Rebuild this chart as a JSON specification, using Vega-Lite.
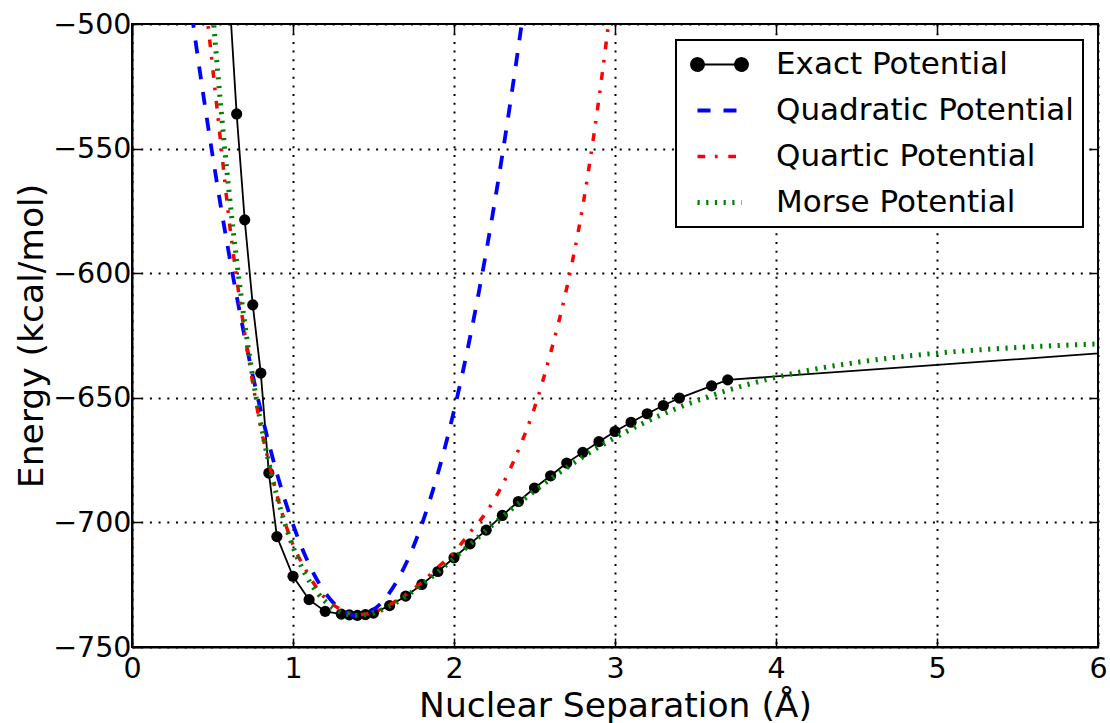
{
  "$schema": "https://vega.github.io/schema/vega-lite/v6.json",
  "width": 966,
  "height": 623,
  "autosize": "none",
  "padding": {"left": 132, "top": 24, "right": 12, "bottom": 76},
  "background": "white",
  "config": {
    "font": "DejaVu Sans",
    "view": {"stroke": "black", "strokeWidth": 2},
    "axis": {
      "labelFont": "DejaVu Sans",
      "titleFont": "DejaVu Sans",
      "labelFontSize": 28.5,
      "titleFontSize": 34.5,
      "titleFontWeight": "normal",
      "labelColor": "black",
      "titleColor": "black",
      "domainColor": "black",
      "domainWidth": 2,
      "tickColor": "black",
      "tickWidth": 1.5,
      "tickSize": -9,
      "grid": true,
      "gridColor": "black",
      "gridOpacity": 1,
      "gridWidth": 2,
      "gridDash": [2, 6.7],
      "labelFlush": false,
      "labelOverlap": false
    },
    "axisX": {"labelPadding": 16, "titlePadding": 7},
    "axisY": {"labelPadding": 10, "titlePadding": 3}
  },
  "datasets": {
    "exact": [
      {"x": 0.6, "E": -483.6, "series": "Exact Potential"},
      {"x": 0.65, "E": -536.1, "series": "Exact Potential"},
      {"x": 0.7, "E": -578.6, "series": "Exact Potential"},
      {"x": 0.75, "E": -612.7, "series": "Exact Potential"},
      {"x": 0.8, "E": -640.1, "series": "Exact Potential"},
      {"x": 0.85, "E": -680.2, "series": "Exact Potential"},
      {"x": 0.9, "E": -705.7, "series": "Exact Potential"},
      {"x": 1.0, "E": -721.6, "series": "Exact Potential"},
      {"x": 1.1, "E": -731.0, "series": "Exact Potential"},
      {"x": 1.2, "E": -735.7, "series": "Exact Potential"},
      {"x": 1.3, "E": -736.8, "series": "Exact Potential"},
      {"x": 1.35, "E": -737.1, "series": "Exact Potential"},
      {"x": 1.4, "E": -737.3, "series": "Exact Potential"},
      {"x": 1.45, "E": -737.0, "series": "Exact Potential"},
      {"x": 1.5, "E": -736.4, "series": "Exact Potential"},
      {"x": 1.6, "E": -733.4, "series": "Exact Potential"},
      {"x": 1.7, "E": -729.6, "series": "Exact Potential"},
      {"x": 1.8, "E": -724.9, "series": "Exact Potential"},
      {"x": 1.9, "E": -719.7, "series": "Exact Potential"},
      {"x": 2.0, "E": -714.2, "series": "Exact Potential"},
      {"x": 2.1, "E": -708.6, "series": "Exact Potential"},
      {"x": 2.2, "E": -703.1, "series": "Exact Potential"},
      {"x": 2.3, "E": -697.2, "series": "Exact Potential"},
      {"x": 2.4, "E": -691.6, "series": "Exact Potential"},
      {"x": 2.5, "E": -686.2, "series": "Exact Potential"},
      {"x": 2.6, "E": -681.3, "series": "Exact Potential"},
      {"x": 2.7, "E": -676.2, "series": "Exact Potential"},
      {"x": 2.8, "E": -671.9, "series": "Exact Potential"},
      {"x": 2.9, "E": -667.6, "series": "Exact Potential"},
      {"x": 3.0, "E": -663.5, "series": "Exact Potential"},
      {"x": 3.1, "E": -659.8, "series": "Exact Potential"},
      {"x": 3.2, "E": -656.4, "series": "Exact Potential"},
      {"x": 3.3, "E": -653.1, "series": "Exact Potential"},
      {"x": 3.4, "E": -650.1, "series": "Exact Potential"},
      {"x": 3.6, "E": -645.2, "series": "Exact Potential"},
      {"x": 3.7, "E": -642.8, "series": "Exact Potential"},
      {"x": 8.0, "E": -623.0, "series": "Exact Potential"}
    ],
    "quadratic": [
      {"x": 0.35, "E": -485.9, "series": "Quadratic Potential"},
      {"x": 0.4, "E": -509.3, "series": "Quadratic Potential"},
      {"x": 0.45, "E": -531.5, "series": "Quadratic Potential"},
      {"x": 0.5, "E": -552.6, "series": "Quadratic Potential"},
      {"x": 0.55, "E": -572.6, "series": "Quadratic Potential"},
      {"x": 0.6, "E": -591.4, "series": "Quadratic Potential"},
      {"x": 0.65, "E": -609.1, "series": "Quadratic Potential"},
      {"x": 0.7, "E": -625.6, "series": "Quadratic Potential"},
      {"x": 0.75, "E": -641.0, "series": "Quadratic Potential"},
      {"x": 0.8, "E": -655.2, "series": "Quadratic Potential"},
      {"x": 0.85, "E": -668.3, "series": "Quadratic Potential"},
      {"x": 0.9, "E": -680.3, "series": "Quadratic Potential"},
      {"x": 0.95, "E": -691.1, "series": "Quadratic Potential"},
      {"x": 1.0, "E": -700.8, "series": "Quadratic Potential"},
      {"x": 1.05, "E": -709.4, "series": "Quadratic Potential"},
      {"x": 1.1, "E": -716.8, "series": "Quadratic Potential"},
      {"x": 1.15, "E": -723.1, "series": "Quadratic Potential"},
      {"x": 1.2, "E": -728.2, "series": "Quadratic Potential"},
      {"x": 1.25, "E": -732.2, "series": "Quadratic Potential"},
      {"x": 1.3, "E": -735.0, "series": "Quadratic Potential"},
      {"x": 1.35, "E": -736.7, "series": "Quadratic Potential"},
      {"x": 1.4, "E": -737.3, "series": "Quadratic Potential"},
      {"x": 1.45, "E": -736.7, "series": "Quadratic Potential"},
      {"x": 1.5, "E": -735.0, "series": "Quadratic Potential"},
      {"x": 1.55, "E": -732.2, "series": "Quadratic Potential"},
      {"x": 1.6, "E": -728.2, "series": "Quadratic Potential"},
      {"x": 1.65, "E": -723.1, "series": "Quadratic Potential"},
      {"x": 1.7, "E": -716.8, "series": "Quadratic Potential"},
      {"x": 1.75, "E": -709.4, "series": "Quadratic Potential"},
      {"x": 1.8, "E": -700.8, "series": "Quadratic Potential"},
      {"x": 1.85, "E": -691.1, "series": "Quadratic Potential"},
      {"x": 1.9, "E": -680.3, "series": "Quadratic Potential"},
      {"x": 1.95, "E": -668.3, "series": "Quadratic Potential"},
      {"x": 2.0, "E": -655.2, "series": "Quadratic Potential"},
      {"x": 2.05, "E": -641.0, "series": "Quadratic Potential"},
      {"x": 2.1, "E": -625.6, "series": "Quadratic Potential"},
      {"x": 2.15, "E": -609.1, "series": "Quadratic Potential"},
      {"x": 2.2, "E": -591.4, "series": "Quadratic Potential"},
      {"x": 2.25, "E": -572.6, "series": "Quadratic Potential"},
      {"x": 2.3, "E": -552.6, "series": "Quadratic Potential"},
      {"x": 2.35, "E": -531.5, "series": "Quadratic Potential"},
      {"x": 2.4, "E": -509.3, "series": "Quadratic Potential"},
      {"x": 2.45, "E": -485.9, "series": "Quadratic Potential"}
    ],
    "quartic": [
      {"x": 0.46, "E": -494, "series": "Quartic Potential"},
      {"x": 0.48, "E": -505, "series": "Quartic Potential"},
      {"x": 0.5, "E": -517, "series": "Quartic Potential"},
      {"x": 0.52, "E": -529, "series": "Quartic Potential"},
      {"x": 0.55, "E": -547, "series": "Quartic Potential"},
      {"x": 0.6, "E": -577, "series": "Quartic Potential"},
      {"x": 0.65, "E": -602, "series": "Quartic Potential"},
      {"x": 0.7, "E": -624, "series": "Quartic Potential"},
      {"x": 0.75, "E": -644, "series": "Quartic Potential"},
      {"x": 0.8, "E": -662, "series": "Quartic Potential"},
      {"x": 0.85, "E": -676, "series": "Quartic Potential"},
      {"x": 0.9, "E": -689, "series": "Quartic Potential"},
      {"x": 0.95, "E": -700, "series": "Quartic Potential"},
      {"x": 1.0, "E": -709, "series": "Quartic Potential"},
      {"x": 1.07, "E": -718, "series": "Quartic Potential"},
      {"x": 1.18, "E": -729, "series": "Quartic Potential"},
      {"x": 1.3, "E": -735, "series": "Quartic Potential"},
      {"x": 1.4, "E": -737, "series": "Quartic Potential"},
      {"x": 1.5, "E": -736, "series": "Quartic Potential"},
      {"x": 1.6, "E": -733, "series": "Quartic Potential"},
      {"x": 1.7, "E": -729, "series": "Quartic Potential"},
      {"x": 1.8, "E": -724, "series": "Quartic Potential"},
      {"x": 1.9, "E": -718, "series": "Quartic Potential"},
      {"x": 2.0, "E": -712, "series": "Quartic Potential"},
      {"x": 2.1, "E": -704, "series": "Quartic Potential"},
      {"x": 2.2, "E": -696, "series": "Quartic Potential"},
      {"x": 2.3, "E": -685, "series": "Quartic Potential"},
      {"x": 2.4, "E": -671, "series": "Quartic Potential"},
      {"x": 2.5, "E": -654, "series": "Quartic Potential"},
      {"x": 2.6, "E": -632, "series": "Quartic Potential"},
      {"x": 2.7, "E": -606, "series": "Quartic Potential"},
      {"x": 2.8, "E": -573, "series": "Quartic Potential"},
      {"x": 2.9, "E": -530, "series": "Quartic Potential"},
      {"x": 2.95, "E": -505, "series": "Quartic Potential"},
      {"x": 2.98, "E": -489, "series": "Quartic Potential"}
    ],
    "morse": [
      {"x": 0.5, "E": -493.5, "series": "Morse Potential"},
      {"x": 0.52, "E": -509.7, "series": "Morse Potential"},
      {"x": 0.55, "E": -532.1, "series": "Morse Potential"},
      {"x": 0.6, "E": -565.7, "series": "Morse Potential"},
      {"x": 0.65, "E": -594.8, "series": "Morse Potential"},
      {"x": 0.7, "E": -620.0, "series": "Morse Potential"},
      {"x": 0.75, "E": -641.7, "series": "Morse Potential"},
      {"x": 0.8, "E": -660.3, "series": "Morse Potential"},
      {"x": 0.85, "E": -676.1, "series": "Morse Potential"},
      {"x": 0.9, "E": -689.4, "series": "Morse Potential"},
      {"x": 0.95, "E": -700.6, "series": "Morse Potential"},
      {"x": 1.0, "E": -709.8, "series": "Morse Potential"},
      {"x": 1.05, "E": -717.4, "series": "Morse Potential"},
      {"x": 1.1, "E": -723.4, "series": "Morse Potential"},
      {"x": 1.15, "E": -728.1, "series": "Morse Potential"},
      {"x": 1.2, "E": -731.7, "series": "Morse Potential"},
      {"x": 1.25, "E": -734.3, "series": "Morse Potential"},
      {"x": 1.3, "E": -736.1, "series": "Morse Potential"},
      {"x": 1.35, "E": -737.0, "series": "Morse Potential"},
      {"x": 1.4, "E": -737.3, "series": "Morse Potential"},
      {"x": 1.45, "E": -737.0, "series": "Morse Potential"},
      {"x": 1.5, "E": -736.3, "series": "Morse Potential"},
      {"x": 1.6, "E": -733.6, "series": "Morse Potential"},
      {"x": 1.7, "E": -729.7, "series": "Morse Potential"},
      {"x": 1.8, "E": -725.0, "series": "Morse Potential"},
      {"x": 1.9, "E": -719.9, "series": "Morse Potential"},
      {"x": 2.0, "E": -714.4, "series": "Morse Potential"},
      {"x": 2.1, "E": -708.8, "series": "Morse Potential"},
      {"x": 2.2, "E": -703.2, "series": "Morse Potential"},
      {"x": 2.3, "E": -697.7, "series": "Morse Potential"},
      {"x": 2.4, "E": -692.4, "series": "Morse Potential"},
      {"x": 2.5, "E": -687.4, "series": "Morse Potential"},
      {"x": 2.6, "E": -682.5, "series": "Morse Potential"},
      {"x": 2.7, "E": -678.0, "series": "Morse Potential"},
      {"x": 2.8, "E": -673.7, "series": "Morse Potential"},
      {"x": 2.9, "E": -669.7, "series": "Morse Potential"},
      {"x": 3.0, "E": -666.0, "series": "Morse Potential"},
      {"x": 3.2, "E": -659.4, "series": "Morse Potential"},
      {"x": 3.4, "E": -653.8, "series": "Morse Potential"},
      {"x": 3.6, "E": -649.1, "series": "Morse Potential"},
      {"x": 3.8, "E": -645.1, "series": "Morse Potential"},
      {"x": 4.0, "E": -641.8, "series": "Morse Potential"},
      {"x": 4.25, "E": -638.4, "series": "Morse Potential"},
      {"x": 4.5, "E": -635.8, "series": "Morse Potential"},
      {"x": 4.75, "E": -633.7, "series": "Morse Potential"},
      {"x": 5.0, "E": -632.1, "series": "Morse Potential"},
      {"x": 5.5, "E": -629.8, "series": "Morse Potential"},
      {"x": 6.0, "E": -628.4, "series": "Morse Potential"}
    ]
  },
  "layer": [
    {
      "layer": [
        {
          "data": {"name": "exact"},
          "mark": {"type": "line", "clip": true, "strokeWidth": 1.8},
          "encoding": {
            "x": {"field": "x", "type": "quantitative", "title": "Nuclear Separation (Å)",
                  "scale": {"domain": [0, 6], "nice": false, "zero": false},
                  "axis": {"values": [0, 1, 2, 3, 4, 5, 6], "format": "d"}},
            "y": {"field": "E", "type": "quantitative", "title": "Energy (kcal/mol)",
                  "scale": {"domain": [-750, -500], "nice": false, "zero": false},
                  "axis": {"values": [-750, -700, -650, -600, -550, -500], "format": "d"}},
            "color": {
              "field": "series", "type": "nominal",
              "scale": {"domain": ["Exact Potential", "Quadratic Potential", "Quartic Potential", "Morse Potential"],
                        "range": ["black", "#0000ff", "#ff0000", "#008000"]},
              "legend": {
                "title": null,
                "orient": "none",
                "legendX": 544,
                "legendY": 16,
                "padding": 9,
                "strokeColor": "black",
                "fillColor": "white",
                "labelFont": "DejaVu Sans",
                "labelFontSize": 31,
                "labelColor": "black",
                "labelOffset": 60,
                "labelLimit": 0,
                "symbolSize": 400,
                "symbolType": "stroke",
                "rowPadding": 14,
                "encode": {
                  "legend": {"update": {"strokeWidth": {"value": 2}}},
                  "symbols": {"update": {
                    "shape": {"signal": "datum.value === 'Exact Potential' ? 'M-0.3,0L4.1,0M-0.95,0A0.65,0.65,0,1,1,0.35,0A0.65,0.65,0,1,1,-0.95,0ZM3.45,0A0.65,0.65,0,1,1,4.75,0A0.65,0.65,0,1,1,3.45,0Z' : 'M-0.3,0L4.1,0'"},
                    "fill": {"signal": "datum.value === 'Exact Potential' ? 'black' : 'transparent'"},
                    "strokeWidth": {"signal": "datum.value === 'Exact Potential' ? 1.8 : datum.value === 'Morse Potential' ? 5 : datum.value === 'Quadratic Potential' ? 3.8 : 3.5"},
                    "strokeDash": {"signal": "datum.value === 'Quadratic Potential' ? [13, 13] : datum.value === 'Quartic Potential' ? [7.7, 9.7, 2.7, 10.7] : datum.value === 'Morse Potential' ? [2.2, 6.5] : [1, 0]"}
                  }}
                }
              }
            }
          }
        },
        {
          "data": {"name": "exact"},
          "mark": {"type": "point", "filled": true, "clip": true, "size": 125, "opacity": 1, "color": "black"},
          "encoding": {
            "x": {"field": "x", "type": "quantitative", "title": "Nuclear Separation (Å)",
                  "scale": {"domain": [0, 6], "nice": false, "zero": false}},
            "y": {"field": "E", "type": "quantitative", "title": "Energy (kcal/mol)",
                  "scale": {"domain": [-750, -500], "nice": false, "zero": false}}
          }
        },
        {
          "data": {"name": "quadratic"},
          "mark": {"type": "line", "clip": true, "strokeWidth": 3.8, "strokeDash": [13, 13], "interpolate": "monotone"},
          "encoding": {
            "x": {"field": "x", "type": "quantitative", "title": "Nuclear Separation (Å)",
                  "scale": {"domain": [0, 6], "nice": false, "zero": false}},
            "y": {"field": "E", "type": "quantitative", "title": "Energy (kcal/mol)",
                  "scale": {"domain": [-750, -500], "nice": false, "zero": false}},
            "color": {"field": "series", "type": "nominal"}
          }
        },
        {
          "data": {"name": "quartic"},
          "mark": {"type": "line", "clip": true, "strokeWidth": 3.5, "strokeDash": [7.7, 9.7, 2.7, 10.7], "interpolate": "monotone"},
          "encoding": {
            "x": {"field": "x", "type": "quantitative", "title": "Nuclear Separation (Å)",
                  "scale": {"domain": [0, 6], "nice": false, "zero": false}},
            "y": {"field": "E", "type": "quantitative", "title": "Energy (kcal/mol)",
                  "scale": {"domain": [-750, -500], "nice": false, "zero": false}},
            "color": {"field": "series", "type": "nominal"}
          }
        },
        {
          "data": {"name": "morse"},
          "mark": {"type": "line", "clip": true, "strokeWidth": 5, "strokeDash": [2.2, 6.5], "interpolate": "monotone"},
          "encoding": {
            "x": {"field": "x", "type": "quantitative", "title": "Nuclear Separation (Å)",
                  "scale": {"domain": [0, 6], "nice": false, "zero": false}},
            "y": {"field": "E", "type": "quantitative", "title": "Energy (kcal/mol)",
                  "scale": {"domain": [-750, -500], "nice": false, "zero": false}},
            "color": {"field": "series", "type": "nominal"}
          }
        }
      ]
    },
    {
      "data": {"name": "exact"},
      "mark": {"type": "point", "opacity": 0},
      "encoding": {
        "x": {"field": "x", "type": "quantitative",
              "scale": {"domain": [0, 6], "nice": false, "zero": false},
              "axis": {"orient": "top", "labels": false, "title": null, "grid": false, "domain": false,
                       "values": [0, 1, 2, 3, 4, 5, 6]}},
        "y": {"field": "E", "type": "quantitative",
              "scale": {"domain": [-750, -500], "nice": false, "zero": false},
              "axis": {"orient": "right", "labels": false, "title": null, "grid": false, "domain": false,
                       "values": [-750, -700, -650, -600, -550, -500]}}
      }
    }
  ],
  "resolve": {"axis": {"x": "independent", "y": "independent"}}
}
